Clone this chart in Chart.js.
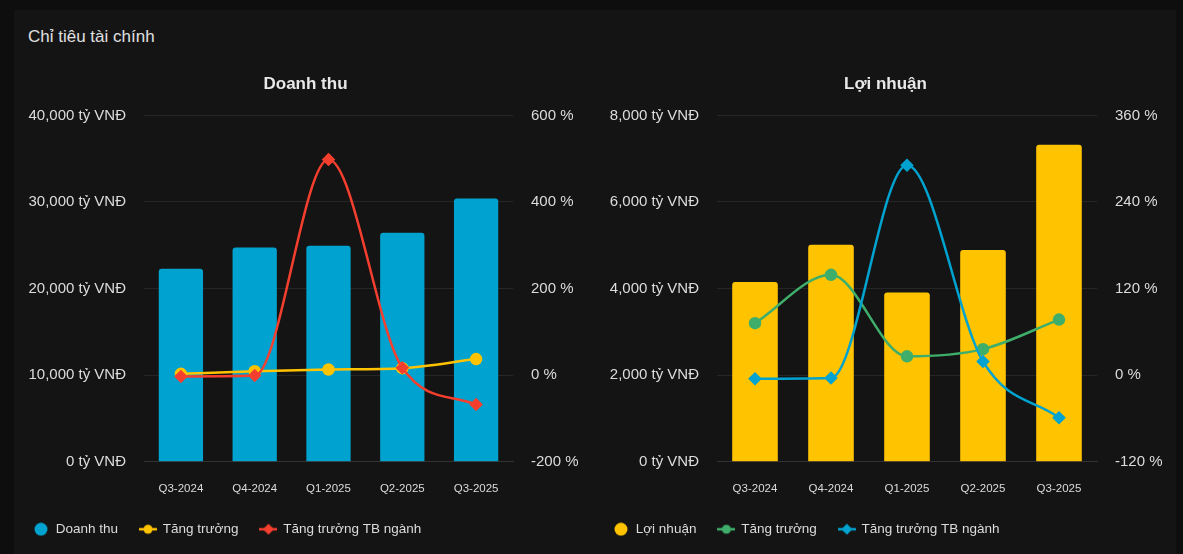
<!DOCTYPE html>
<html>
<head>
<meta charset="utf-8">
<script src="https://cdn.jsdelivr.net/npm/chart.js@4.4.1/dist/chart.umd.min.js"></script>
<style>
  html, body { margin: 0; padding: 0; background: #0e0e0e; }
  body { width: 1183px; height: 554px; position: relative; overflow: hidden; font-family: "Liberation Sans", Arial, sans-serif; }
  .card { position: absolute; left: 14px; top: 10px; width: 1162px; height: 544px; background: #141414; }
  .heading { position: absolute; left: 28px; top: 27px; color: #e0e0e0; font-size: 17px; }
  .box { position: absolute; top: 55px; width: 589px; height: 499px; }
</style>
</head>
<body>
<div class="card"></div>
<div class="heading">Chỉ tiêu tài chính</div>
<div class="box" style="left:11px"><canvas id="revChart"></canvas></div>
<div class="box" style="left:591px"><canvas id="profitChart"></canvas></div>

<script>
// Du lieu doc tu hinh
const quarters = ['Q3-2024', 'Q4-2024', 'Q1-2025', 'Q2-2025', 'Q3-2025'];

// Doanh thu (ty VND) va tang truong (%)
const revenue = [22300, 24750, 24950, 26450, 30400];
const revenueGrowth = [3, 9, 13, 16, 37];
const revenueIndustry = [-3, -1, 498, 17, -68];

// Loi nhuan (ty VND) va tang truong (%)
const profit = [4150, 5010, 3910, 4890, 7320];
const profitGrowth = [72, 139, 26, 36, 77];
const profitIndustry = [-5, -4, 291, 19, -59];

const revTicks = { min: 0, max: 40000, step: 10000 };
const revPctTicks = { min: -200, max: 600, step: 200 };
const profitTicks = { min: 0, max: 8000, step: 2000 };
const profitPctTicks = { min: -120, max: 360, step: 120 };

const BLUE = '#00a3cf';
const YELLOW = '#ffc300';
const RED = '#f53f2e';
const GREEN = '#3eae6a';
const TEXT = '#dcdcdc';

// Icon cho legend: cham tron, hoac duong ke co diem
function legendIcon(kind, color) {
    const c = document.createElement('canvas');
    const ctx = c.getContext('2d');
    if (kind === 'dot') {
        c.width = 14; c.height = 14;
        ctx.fillStyle = color;
        ctx.beginPath();
        ctx.arc(7, 7, 6.5, 0, Math.PI * 2);
        ctx.fill();
        return c;
    }
    c.width = 18; c.height = 12;
    ctx.strokeStyle = color;
    ctx.lineWidth = 2.5;
    ctx.beginPath();
    ctx.moveTo(0, 6);
    ctx.lineTo(18, 6);
    ctx.stroke();
    ctx.fillStyle = color;
    ctx.beginPath();
    if (kind === 'circle') {
        ctx.arc(9, 6, 4.5, 0, Math.PI * 2);
    } else {
        ctx.moveTo(9, 0.5); ctx.lineTo(14.5, 6); ctx.lineTo(9, 11.5); ctx.lineTo(3.5, 6);
        ctx.closePath();
    }
    ctx.fill();
    return c;
}

function buildChart(id, cfg) {
    const ctx = document.getElementById(id).getContext('2d');
    return new Chart(ctx, {
        type: 'bar',
        data: {
            labels: quarters,
            datasets: [
                {
                    type: 'bar',
                    label: cfg.barLabel,
                    data: cfg.bars,
                    backgroundColor: cfg.barColor,
                    borderRadius: 3,
                    borderSkipped: 'start',
                    barPercentage: 0.75,
                    categoryPercentage: 0.8,
                    yAxisID: 'y',
                    order: 3
                },
                {
                    type: 'line',
                    label: 'Tăng trưởng',
                    data: cfg.growth,
                    borderColor: cfg.growthColor,
                    backgroundColor: cfg.growthColor,
                    borderWidth: 2.5,
                    pointStyle: 'circle',
                    pointRadius: 5,
                    pointHoverRadius: 6,
                    cubicInterpolationMode: 'monotone',
                    yAxisID: 'y1',
                    order: 2
                },
                {
                    type: 'line',
                    label: 'Tăng trưởng TB ngành',
                    data: cfg.industry,
                    borderColor: cfg.industryColor,
                    backgroundColor: cfg.industryColor,
                    borderWidth: 2.5,
                    pointStyle: 'rectRot',
                    pointRadius: 5,
                    pointHoverRadius: 6,
                    cubicInterpolationMode: 'monotone',
                    yAxisID: 'y1',
                    order: 1
                }
            ]
        },
        options: {
            responsive: true,
            maintainAspectRatio: false,
            animation: false,
            layout: { padding: { left: 0, right: 0, top: 0, bottom: 8 } },
            plugins: {
                title: {
                    display: true,
                    text: cfg.title,
                    color: '#e8e8e8',
                    font: { family: 'Liberation Sans', size: 17, weight: 'bold' },
                    padding: { top: 19, bottom: 21 }
                },
                legend: {
                    position: 'bottom',
                    align: 'start',
                    labels: {
                        usePointStyle: true,
                        pointStyleWidth: 16,
                        boxHeight: 14,
                        padding: 22,
                        color: TEXT,
                        font: { family: 'Liberation Sans', size: 13.5 },
                        generateLabels: () => [
                            { text: cfg.barLabel, pointStyle: legendIcon('dot', cfg.barColor), fontColor: TEXT, datasetIndex: 0, hidden: false, lineWidth: 0 },
                            { text: 'Tăng trưởng', pointStyle: legendIcon('circle', cfg.growthColor), fontColor: TEXT, datasetIndex: 1, hidden: false, lineWidth: 0 },
                            { text: 'Tăng trưởng TB ngành', pointStyle: legendIcon('diamond', cfg.industryColor), fontColor: TEXT, datasetIndex: 2, hidden: false, lineWidth: 0 }
                        ]
                    }
                },
                tooltip: { mode: 'index', intersect: false }
            },
            scales: {
                x: {
                    grid: { display: false, drawTicks: false },
                    border: { color: '#333333' },
                    ticks: { color: TEXT, font: { family: 'Liberation Sans', size: 11.5 }, padding: 20 },
                    afterFit: s => { s.height -= 15; }
                },
                y: {
                    position: 'left',
                    min: cfg.leftTicks.min,
                    max: cfg.leftTicks.max,
                    grid: { color: '#262626', drawTicks: false },
                    border: { display: false },
                    ticks: {
                        stepSize: cfg.leftTicks.step,
                        color: TEXT,
                        padding: 18,
                        font: { family: 'Liberation Sans', size: 15 },
                        callback: v => v.toLocaleString('en-US') + ' tỷ VNĐ'
                    },
                    afterFit: s => { s.width = cfg.leftWidth; }
                },
                y1: {
                    position: 'right',
                    min: cfg.rightTicks.min,
                    max: cfg.rightTicks.max,
                    grid: { display: false, drawTicks: false },
                    border: { display: false },
                    ticks: {
                        stepSize: cfg.rightTicks.step,
                        color: TEXT,
                        padding: 18,
                        font: { family: 'Liberation Sans', size: 15 },
                        callback: v => v + ' %'
                    },
                    afterFit: s => { s.width = cfg.rightWidth; }
                }
            }
        }
    });
}

buildChart('revChart', {
    title: 'Doanh thu',
    barLabel: 'Doanh thu',
    bars: revenue,
    growth: revenueGrowth,
    industry: revenueIndustry,
    barColor: BLUE,
    growthColor: YELLOW,
    industryColor: RED,
    leftTicks: revTicks,
    rightTicks: revPctTicks,
    leftWidth: 133,
    rightWidth: 87
});

buildChart('profitChart', {
    title: 'Lợi nhuận',
    barLabel: 'Lợi nhuận',
    bars: profit,
    growth: profitGrowth,
    industry: profitIndustry,
    barColor: YELLOW,
    growthColor: GREEN,
    industryColor: BLUE,
    leftTicks: profitTicks,
    rightTicks: profitPctTicks,
    leftWidth: 126,
    rightWidth: 83
});
</script>
</body>
</html>
